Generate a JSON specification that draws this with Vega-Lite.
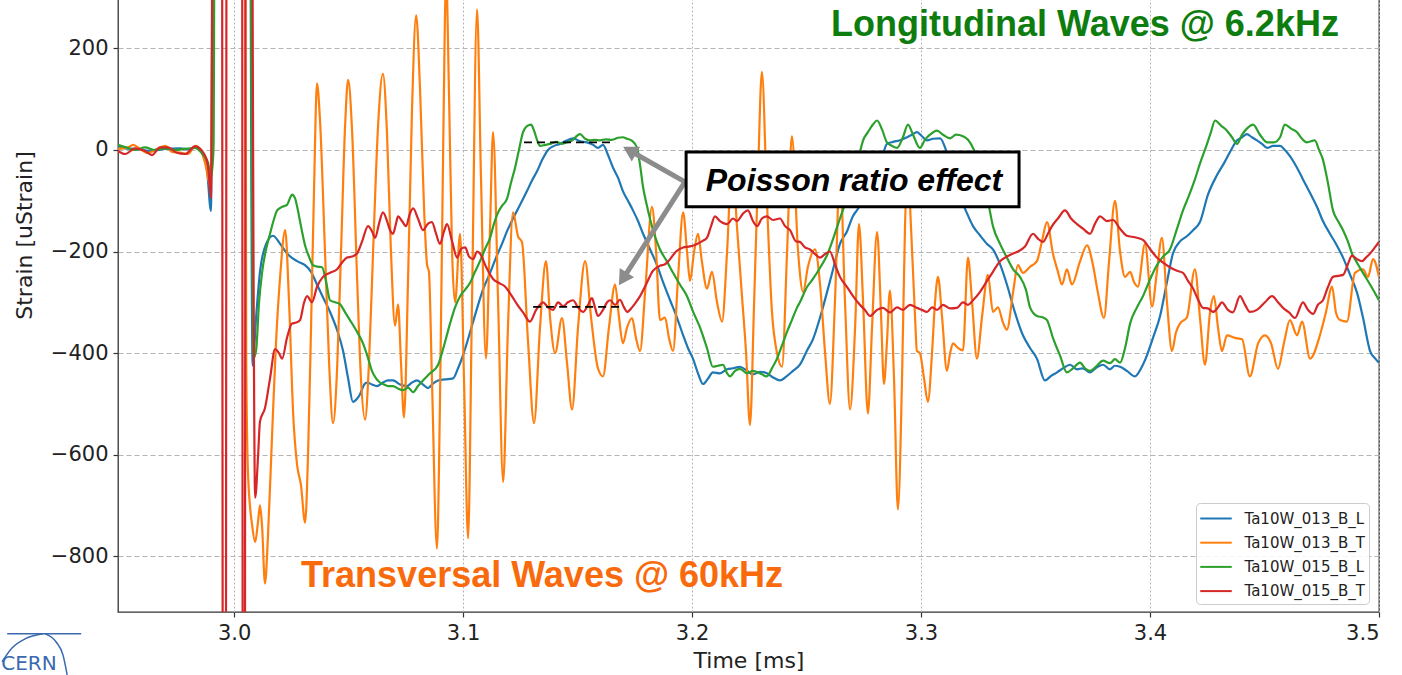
{
"$schema":"https://vega.github.io/schema/vega-lite/v6.json",
"width":1261,"height":754,"autosize":"none",
"padding":{"left":118,"top":-142,"right":23,"bottom":63},
"background":"white",
"config":{
"view":{"stroke":"#333333","strokeWidth":1.3},
"axis":{"labelFont":"DejaVu Sans","titleFont":"DejaVu Sans","labelFontSize":21,"titleFontSize":22,"labelColor":"#222222","titleColor":"#222222","titleFontWeight":"normal","tickColor":"#333333","tickSize":5,"tickWidth":1.2,"labelPadding":5,"domain":false,"gridColor":"#b3b3b3","gridWidth":1}
},
"datasets":{
"blue":[{"t":2.9493,"v":8},{"t":2.9524,"v":3},{"t":2.9568,"v":2},{"t":2.9633,"v":-2},{"t":2.9699,"v":2},{"t":2.9764,"v":3},{"t":2.9808,"v":1},{"t":2.9834,"v":7},{"t":2.986,"v":-5},{"t":2.9882,"v":-40},{"t":2.9899,"v":-120},{"t":2.9913,"v":1500},{"t":3.0061,"v":1500},{"t":3.0081,"v":-425},{"t":3.0096,"v":-330},{"t":3.0113,"v":-240},{"t":3.014,"v":-185},{"t":3.017,"v":-169},{"t":3.0201,"v":-185},{"t":3.0231,"v":-204},{"t":3.0275,"v":-219},{"t":3.031,"v":-227},{"t":3.0336,"v":-240},{"t":3.0362,"v":-265},{"t":3.0388,"v":-290},{"t":3.0419,"v":-319},{"t":3.045,"v":-355},{"t":3.0476,"v":-396},{"t":3.0498,"v":-450},{"t":3.0519,"v":-496},{"t":3.0537,"v":-490},{"t":3.055,"v":-481},{"t":3.0568,"v":-462},{"t":3.0581,"v":-458},{"t":3.0602,"v":-462},{"t":3.0624,"v":-465},{"t":3.065,"v":-458},{"t":3.0672,"v":-454},{"t":3.0694,"v":-454},{"t":3.0725,"v":-462},{"t":3.0755,"v":-465},{"t":3.0777,"v":-458},{"t":3.0799,"v":-454},{"t":3.0825,"v":-462},{"t":3.0847,"v":-469},{"t":3.0869,"v":-460},{"t":3.0891,"v":-454},{"t":3.0921,"v":-452},{"t":3.0956,"v":-450},{"t":3.0978,"v":-430},{"t":3.1,"v":-404},{"t":3.103,"v":-360},{"t":3.1061,"v":-312},{"t":3.1087,"v":-275},{"t":3.1118,"v":-242},{"t":3.1144,"v":-212},{"t":3.117,"v":-185},{"t":3.1192,"v":-160},{"t":3.1218,"v":-135},{"t":3.1249,"v":-108},{"t":3.1279,"v":-81},{"t":3.1301,"v":-60},{"t":3.1323,"v":-42},{"t":3.1345,"v":-20},{"t":3.1371,"v":0},{"t":3.1397,"v":8},{"t":3.1423,"v":12},{"t":3.145,"v":18},{"t":3.148,"v":23},{"t":3.1511,"v":17},{"t":3.1541,"v":15},{"t":3.1568,"v":10},{"t":3.1589,"v":4},{"t":3.1611,"v":10},{"t":3.1633,"v":-10},{"t":3.1655,"v":-35},{"t":3.1677,"v":-55},{"t":3.1698,"v":-81},{"t":3.172,"v":-100},{"t":3.1742,"v":-119},{"t":3.1764,"v":-140},{"t":3.1786,"v":-165},{"t":3.1816,"v":-195},{"t":3.1847,"v":-227},{"t":3.1873,"v":-260},{"t":3.1904,"v":-296},{"t":3.1934,"v":-330},{"t":3.1961,"v":-365},{"t":3.1982,"v":-390},{"t":3.2004,"v":-411},{"t":3.2026,"v":-440},{"t":3.2048,"v":-461},{"t":3.207,"v":-450},{"t":3.2091,"v":-438},{"t":3.2122,"v":-440},{"t":3.2153,"v":-432},{"t":3.2179,"v":-430},{"t":3.2209,"v":-427},{"t":3.224,"v":-435},{"t":3.2266,"v":-442},{"t":3.2297,"v":-437},{"t":3.2327,"v":-440},{"t":3.2354,"v":-448},{"t":3.2384,"v":-454},{"t":3.2415,"v":-445},{"t":3.2441,"v":-435},{"t":3.2471,"v":-423},{"t":3.2502,"v":-395},{"t":3.2528,"v":-373},{"t":3.2559,"v":-330},{"t":3.2589,"v":-281},{"t":3.2616,"v":-235},{"t":3.2646,"v":-185},{"t":3.2677,"v":-160},{"t":3.2703,"v":-130},{"t":3.272,"v":-119},{"t":3.2747,"v":-100},{"t":3.2777,"v":-81},{"t":3.2808,"v":-50},{"t":3.283,"v":-15},{"t":3.2851,"v":12},{"t":3.2878,"v":16},{"t":3.2908,"v":19},{"t":3.2939,"v":25},{"t":3.2961,"v":30},{"t":3.2982,"v":35},{"t":3.3004,"v":27},{"t":3.3026,"v":19},{"t":3.3052,"v":22},{"t":3.3083,"v":23},{"t":3.3113,"v":-5},{"t":3.314,"v":-42},{"t":3.317,"v":-90},{"t":3.3201,"v":-125},{"t":3.3227,"v":-150},{"t":3.3257,"v":-168},{"t":3.3288,"v":-185},{"t":3.3314,"v":-196},{"t":3.3345,"v":-225},{"t":3.3375,"v":-265},{"t":3.341,"v":-320},{"t":3.3445,"v":-365},{"t":3.3476,"v":-390},{"t":3.3506,"v":-411},{"t":3.3541,"v":-454},{"t":3.3568,"v":-445},{"t":3.3594,"v":-438},{"t":3.362,"v":-430},{"t":3.3651,"v":-423},{"t":3.3681,"v":-432},{"t":3.3707,"v":-430},{"t":3.3738,"v":-438},{"t":3.3768,"v":-428},{"t":3.3795,"v":-423},{"t":3.3825,"v":-432},{"t":3.3847,"v":-425},{"t":3.3869,"v":-427},{"t":3.3899,"v":-435},{"t":3.3934,"v":-446},{"t":3.3961,"v":-430},{"t":3.3987,"v":-404},{"t":3.4013,"v":-370},{"t":3.4044,"v":-327},{"t":3.4074,"v":-260},{"t":3.41,"v":-204},{"t":3.4131,"v":-180},{"t":3.4161,"v":-170},{"t":3.4188,"v":-158},{"t":3.4218,"v":-142},{"t":3.4253,"v":-88},{"t":3.4292,"v":-50},{"t":3.4327,"v":-23},{"t":3.4354,"v":0},{"t":3.438,"v":19},{"t":3.4402,"v":25},{"t":3.4423,"v":31},{"t":3.4445,"v":25},{"t":3.4467,"v":19},{"t":3.4489,"v":12},{"t":3.4511,"v":4},{"t":3.4537,"v":8},{"t":3.4568,"v":8},{"t":3.4589,"v":0},{"t":3.4611,"v":-12},{"t":3.4642,"v":-35},{"t":3.4668,"v":-58},{"t":3.4699,"v":-85},{"t":3.4729,"v":-112},{"t":3.4755,"v":-140},{"t":3.4786,"v":-165},{"t":3.4816,"v":-188},{"t":3.4843,"v":-212},{"t":3.4873,"v":-245},{"t":3.4904,"v":-281},{"t":3.493,"v":-330},{"t":3.4961,"v":-396},{"t":3.4982,"v":-410},{"t":3.5,"v":-419}],
"orange":[{"t":2.9493,"v":2},{"t":2.9537,"v":5},{"t":2.9559,"v":10},{"t":2.9589,"v":2},{"t":2.9624,"v":-6},{"t":2.9668,"v":3},{"t":2.9699,"v":8},{"t":2.9729,"v":-4},{"t":2.9764,"v":-5},{"t":2.9799,"v":-8},{"t":2.983,"v":8},{"t":2.9851,"v":2},{"t":2.9873,"v":-25},{"t":2.9899,"v":-75},{"t":2.9917,"v":1500},{"t":3.0044,"v":1500},{"t":3.0053,"v":-411},{"t":3.0061,"v":-640},{"t":3.0079,"v":-740},{"t":3.0092,"v":-772},{"t":3.0105,"v":-730},{"t":3.0113,"v":-700},{"t":3.0122,"v":-740},{"t":3.0135,"v":-854},{"t":3.0148,"v":-760},{"t":3.0166,"v":-560},{"t":3.0183,"v":-380},{"t":3.0201,"v":-250},{"t":3.0223,"v":-158},{"t":3.024,"v":-300},{"t":3.0258,"v":-520},{"t":3.0275,"v":-620},{"t":3.0292,"v":-660},{"t":3.031,"v":-734},{"t":3.0323,"v":-600},{"t":3.0336,"v":-350},{"t":3.0349,"v":-80},{"t":3.0362,"v":131},{"t":3.0375,"v":60},{"t":3.0397,"v":-200},{"t":3.0415,"v":-420},{"t":3.0432,"v":-538},{"t":3.045,"v":-430},{"t":3.0467,"v":-200},{"t":3.0485,"v":50},{"t":3.0498,"v":138},{"t":3.0515,"v":40},{"t":3.0537,"v":-250},{"t":3.0554,"v":-450},{"t":3.0572,"v":-531},{"t":3.0589,"v":-420},{"t":3.0607,"v":-200},{"t":3.0629,"v":50},{"t":3.065,"v":150},{"t":3.0668,"v":30},{"t":3.0685,"v":-200},{"t":3.0703,"v":-346},{"t":3.0716,"v":-304},{"t":3.0729,"v":-420},{"t":3.0742,"v":-527},{"t":3.076,"v":-250},{"t":3.0777,"v":80},{"t":3.0795,"v":265},{"t":3.0812,"v":120},{"t":3.083,"v":-120},{"t":3.0843,"v":-227},{"t":3.0851,"v":-240},{"t":3.0864,"v":-450},{"t":3.0886,"v":-785},{"t":3.0899,"v":-500},{"t":3.0913,"v":0},{"t":3.0926,"v":340},{"t":3.0939,"v":100},{"t":3.0952,"v":-200},{"t":3.0965,"v":-300},{"t":3.0987,"v":-165},{"t":3.1004,"v":-450},{"t":3.1022,"v":-765},{"t":3.1039,"v":-300},{"t":3.1061,"v":277},{"t":3.1078,"v":-50},{"t":3.11,"v":-411},{"t":3.1118,"v":-150},{"t":3.1131,"v":35},{"t":3.1153,"v":-300},{"t":3.1175,"v":-654},{"t":3.1196,"v":-350},{"t":3.1218,"v":-123},{"t":3.124,"v":-170},{"t":3.1257,"v":-181},{"t":3.1284,"v":-380},{"t":3.131,"v":-538},{"t":3.1336,"v":-350},{"t":3.1362,"v":-219},{"t":3.138,"v":-330},{"t":3.1402,"v":-400},{"t":3.1432,"v":-331},{"t":3.1454,"v":-420},{"t":3.1476,"v":-511},{"t":3.1502,"v":-350},{"t":3.1533,"v":-219},{"t":3.1559,"v":-330},{"t":3.1589,"v":-430},{"t":3.1611,"v":-446},{"t":3.1637,"v":-350},{"t":3.1664,"v":-265},{"t":3.1681,"v":-330},{"t":3.1698,"v":-381},{"t":3.1716,"v":-350},{"t":3.1738,"v":-331},{"t":3.1755,"v":-370},{"t":3.1773,"v":-396},{"t":3.1795,"v":-280},{"t":3.1825,"v":-112},{"t":3.1843,"v":-200},{"t":3.186,"v":-335},{"t":3.1882,"v":-330},{"t":3.1899,"v":-370},{"t":3.1917,"v":-396},{"t":3.1939,"v":-250},{"t":3.1961,"v":-123},{"t":3.1978,"v":-200},{"t":3.1991,"v":-258},{"t":3.2009,"v":-200},{"t":3.2026,"v":-165},{"t":3.2043,"v":-220},{"t":3.2065,"v":-273},{"t":3.2087,"v":-240},{"t":3.2109,"v":-300},{"t":3.2131,"v":-338},{"t":3.2153,"v":-200},{"t":3.2175,"v":-15},{"t":3.2196,"v":-150},{"t":3.2218,"v":-288},{"t":3.2236,"v":-400},{"t":3.2253,"v":-542},{"t":3.2271,"v":-300},{"t":3.2288,"v":-50},{"t":3.2305,"v":154},{"t":3.2327,"v":-100},{"t":3.2349,"v":-319},{"t":3.2371,"v":-400},{"t":3.2393,"v":-427},{"t":3.2415,"v":-200},{"t":3.2436,"v":27},{"t":3.2463,"v":-200},{"t":3.2485,"v":-280},{"t":3.2506,"v":-230},{"t":3.2537,"v":-196},{"t":3.2559,"v":-265},{"t":3.2581,"v":-400},{"t":3.2602,"v":-500},{"t":3.2624,"v":-300},{"t":3.2646,"v":-38},{"t":3.2668,"v":-300},{"t":3.269,"v":-511},{"t":3.2712,"v":-350},{"t":3.2729,"v":-146},{"t":3.2747,"v":-300},{"t":3.2768,"v":-519},{"t":3.2786,"v":-350},{"t":3.2808,"v":-162},{"t":3.2825,"v":-320},{"t":3.2838,"v":-461},{"t":3.2851,"v":-380},{"t":3.2864,"v":-277},{"t":3.2882,"v":-450},{"t":3.2899,"v":-708},{"t":3.2917,"v":-450},{"t":3.293,"v":-150},{"t":3.2943,"v":-38},{"t":3.2956,"v":-150},{"t":3.2974,"v":-330},{"t":3.2982,"v":-396},{"t":3.2995,"v":-400},{"t":3.3013,"v":-450},{"t":3.303,"v":-496},{"t":3.3048,"v":-400},{"t":3.3061,"v":-300},{"t":3.3074,"v":-250},{"t":3.3092,"v":-330},{"t":3.3113,"v":-435},{"t":3.3127,"v":-400},{"t":3.314,"v":-381},{"t":3.3161,"v":-390},{"t":3.3183,"v":-395},{"t":3.3205,"v":-212},{"t":3.3223,"v":-300},{"t":3.3244,"v":-411},{"t":3.3266,"v":-330},{"t":3.3292,"v":-246},{"t":3.3314,"v":-319},{"t":3.3336,"v":-310},{"t":3.3358,"v":-340},{"t":3.3375,"v":-354},{"t":3.3402,"v":-280},{"t":3.3423,"v":-227},{"t":3.3445,"v":-242},{"t":3.3476,"v":-230},{"t":3.3506,"v":-219},{"t":3.3528,"v":-180},{"t":3.355,"v":-142},{"t":3.3576,"v":-204},{"t":3.3598,"v":-240},{"t":3.3616,"v":-265},{"t":3.3637,"v":-235},{"t":3.3659,"v":-265},{"t":3.3694,"v":-220},{"t":3.3725,"v":-188},{"t":3.3751,"v":-227},{"t":3.3772,"v":-280},{"t":3.3799,"v":-331},{"t":3.3821,"v":-220},{"t":3.3847,"v":-100},{"t":3.3869,"v":-200},{"t":3.3891,"v":-250},{"t":3.3913,"v":-240},{"t":3.393,"v":-260},{"t":3.3947,"v":-269},{"t":3.3978,"v":-185},{"t":3.4009,"v":-308},{"t":3.403,"v":-240},{"t":3.4052,"v":-173},{"t":3.4074,"v":-300},{"t":3.4096,"v":-396},{"t":3.4113,"v":-360},{"t":3.4131,"v":-342},{"t":3.4161,"v":-330},{"t":3.4196,"v":-235},{"t":3.4218,"v":-330},{"t":3.424,"v":-423},{"t":3.4262,"v":-320},{"t":3.4279,"v":-288},{"t":3.4297,"v":-350},{"t":3.4314,"v":-396},{"t":3.4336,"v":-365},{"t":3.4371,"v":-370},{"t":3.4402,"v":-373},{"t":3.4436,"v":-446},{"t":3.4472,"v":-381},{"t":3.4502,"v":-365},{"t":3.4528,"v":-380},{"t":3.4559,"v":-431},{"t":3.4585,"v":-380},{"t":3.4611,"v":-335},{"t":3.4642,"v":-365},{"t":3.4664,"v":-338},{"t":3.4699,"v":-411},{"t":3.4742,"v":-365},{"t":3.4768,"v":-320},{"t":3.4795,"v":-269},{"t":3.4812,"v":-320},{"t":3.483,"v":-335},{"t":3.486,"v":-338},{"t":3.4895,"v":-242},{"t":3.493,"v":-235},{"t":3.4952,"v":-250},{"t":3.4974,"v":-215},{"t":3.5,"v":-250}],
"green":[{"t":2.9493,"v":10},{"t":2.9528,"v":5},{"t":2.9568,"v":0},{"t":2.9611,"v":5},{"t":2.9655,"v":0},{"t":2.9699,"v":3},{"t":2.9742,"v":0},{"t":2.9786,"v":2},{"t":2.983,"v":4},{"t":2.9865,"v":-10},{"t":2.9886,"v":-25},{"t":2.9899,"v":-55},{"t":2.991,"v":0},{"t":2.9921,"v":1500},{"t":3.0059,"v":1500},{"t":3.0085,"v":-410},{"t":3.0096,"v":-395},{"t":3.0109,"v":-300},{"t":3.0122,"v":-242},{"t":3.014,"v":-195},{"t":3.0157,"v":-165},{"t":3.0175,"v":-135},{"t":3.0188,"v":-119},{"t":3.021,"v":-112},{"t":3.0231,"v":-108},{"t":3.0244,"v":-95},{"t":3.0253,"v":-88},{"t":3.0266,"v":-95},{"t":3.0275,"v":-111},{"t":3.0292,"v":-150},{"t":3.031,"v":-188},{"t":3.0327,"v":-210},{"t":3.0345,"v":-227},{"t":3.0367,"v":-230},{"t":3.0384,"v":-231},{"t":3.0402,"v":-260},{"t":3.0419,"v":-296},{"t":3.0441,"v":-300},{"t":3.0463,"v":-304},{"t":3.0485,"v":-320},{"t":3.0506,"v":-335},{"t":3.0533,"v":-355},{"t":3.0563,"v":-381},{"t":3.0585,"v":-410},{"t":3.0602,"v":-435},{"t":3.062,"v":-450},{"t":3.0637,"v":-458},{"t":3.0655,"v":-462},{"t":3.0672,"v":-465},{"t":3.0694,"v":-465},{"t":3.0716,"v":-470},{"t":3.0738,"v":-473},{"t":3.076,"v":-468},{"t":3.0782,"v":-477},{"t":3.0803,"v":-465},{"t":3.0825,"v":-454},{"t":3.0856,"v":-440},{"t":3.0891,"v":-423},{"t":3.0917,"v":-385},{"t":3.0943,"v":-342},{"t":3.0965,"v":-310},{"t":3.0987,"v":-288},{"t":3.1009,"v":-275},{"t":3.103,"v":-262},{"t":3.1052,"v":-240},{"t":3.1074,"v":-219},{"t":3.1096,"v":-195},{"t":3.1118,"v":-173},{"t":3.1135,"v":-145},{"t":3.1153,"v":-123},{"t":3.117,"v":-110},{"t":3.1192,"v":-96},{"t":3.1209,"v":-65},{"t":3.1227,"v":-35},{"t":3.1244,"v":0},{"t":3.1262,"v":35},{"t":3.1279,"v":47},{"t":3.1297,"v":50},{"t":3.131,"v":38},{"t":3.1323,"v":20},{"t":3.1336,"v":8},{"t":3.1358,"v":10},{"t":3.138,"v":12},{"t":3.1406,"v":16},{"t":3.1432,"v":12},{"t":3.1454,"v":15},{"t":3.148,"v":20},{"t":3.1498,"v":28},{"t":3.1511,"v":31},{"t":3.1533,"v":22},{"t":3.1554,"v":19},{"t":3.1576,"v":20},{"t":3.1598,"v":19},{"t":3.1624,"v":21},{"t":3.165,"v":20},{"t":3.1677,"v":24},{"t":3.1698,"v":25},{"t":3.1716,"v":22},{"t":3.1738,"v":18},{"t":3.176,"v":4},{"t":3.1773,"v":-30},{"t":3.1786,"v":-73},{"t":3.1803,"v":-110},{"t":3.1816,"v":-135},{"t":3.1838,"v":-170},{"t":3.186,"v":-196},{"t":3.1891,"v":-220},{"t":3.1917,"v":-242},{"t":3.1947,"v":-265},{"t":3.1978,"v":-288},{"t":3.2004,"v":-318},{"t":3.2035,"v":-350},{"t":3.2065,"v":-390},{"t":3.2091,"v":-427},{"t":3.2113,"v":-425},{"t":3.2135,"v":-423},{"t":3.2153,"v":-440},{"t":3.2166,"v":-446},{"t":3.2188,"v":-435},{"t":3.2209,"v":-431},{"t":3.224,"v":-440},{"t":3.2266,"v":-435},{"t":3.2297,"v":-440},{"t":3.2327,"v":-446},{"t":3.2349,"v":-430},{"t":3.2371,"v":-411},{"t":3.2393,"v":-385},{"t":3.2415,"v":-358},{"t":3.2436,"v":-335},{"t":3.2458,"v":-311},{"t":3.2471,"v":-300},{"t":3.2502,"v":-270},{"t":3.2528,"v":-254},{"t":3.2559,"v":-232},{"t":3.2589,"v":-208},{"t":3.2616,"v":-175},{"t":3.2646,"v":-135},{"t":3.2677,"v":-95},{"t":3.2703,"v":-58},{"t":3.2725,"v":-20},{"t":3.2747,"v":19},{"t":3.2768,"v":35},{"t":3.279,"v":50},{"t":3.2808,"v":58},{"t":3.283,"v":40},{"t":3.2851,"v":15},{"t":3.2873,"v":8},{"t":3.2895,"v":4},{"t":3.2921,"v":25},{"t":3.2943,"v":50},{"t":3.2965,"v":30},{"t":3.2995,"v":4},{"t":3.3017,"v":20},{"t":3.3039,"v":30},{"t":3.307,"v":38},{"t":3.3096,"v":30},{"t":3.3127,"v":23},{"t":3.3153,"v":30},{"t":3.3183,"v":27},{"t":3.3205,"v":20},{"t":3.3227,"v":4},{"t":3.3249,"v":-20},{"t":3.3271,"v":-58},{"t":3.3292,"v":-100},{"t":3.3314,"v":-150},{"t":3.3345,"v":-185},{"t":3.3375,"v":-212},{"t":3.3402,"v":-235},{"t":3.3432,"v":-250},{"t":3.3458,"v":-275},{"t":3.3476,"v":-310},{"t":3.3506,"v":-327},{"t":3.3533,"v":-330},{"t":3.355,"v":-335},{"t":3.3576,"v":-370},{"t":3.3607,"v":-405},{"t":3.3637,"v":-438},{"t":3.3664,"v":-430},{"t":3.3694,"v":-419},{"t":3.3716,"v":-430},{"t":3.3738,"v":-435},{"t":3.3768,"v":-425},{"t":3.3795,"v":-415},{"t":3.3825,"v":-420},{"t":3.3847,"v":-412},{"t":3.3869,"v":-419},{"t":3.3891,"v":-390},{"t":3.3913,"v":-342},{"t":3.3943,"v":-310},{"t":3.3969,"v":-288},{"t":3.4,"v":-255},{"t":3.403,"v":-227},{"t":3.4057,"v":-210},{"t":3.4087,"v":-196},{"t":3.4118,"v":-155},{"t":3.4144,"v":-119},{"t":3.417,"v":-90},{"t":3.4196,"v":-58},{"t":3.4218,"v":-27},{"t":3.4249,"v":12},{"t":3.4266,"v":35},{"t":3.4284,"v":58},{"t":3.431,"v":48},{"t":3.4336,"v":38},{"t":3.4358,"v":25},{"t":3.438,"v":12},{"t":3.4402,"v":30},{"t":3.4423,"v":42},{"t":3.445,"v":50},{"t":3.448,"v":30},{"t":3.4511,"v":15},{"t":3.4541,"v":15},{"t":3.4568,"v":25},{"t":3.4589,"v":50},{"t":3.4616,"v":42},{"t":3.4642,"v":35},{"t":3.4664,"v":22},{"t":3.4685,"v":15},{"t":3.472,"v":19},{"t":3.4738,"v":0},{"t":3.4755,"v":-19},{"t":3.4777,"v":-65},{"t":3.4799,"v":-119},{"t":3.4821,"v":-140},{"t":3.4843,"v":-158},{"t":3.4864,"v":-180},{"t":3.4882,"v":-204},{"t":3.4904,"v":-222},{"t":3.493,"v":-242},{"t":3.4961,"v":-265},{"t":3.5,"v":-296}],
"red":[{"t":2.9493,"v":-2},{"t":2.9524,"v":-8},{"t":2.9568,"v":3},{"t":2.9611,"v":-2},{"t":2.9642,"v":-10},{"t":2.9677,"v":5},{"t":2.9712,"v":5},{"t":2.9747,"v":-5},{"t":2.9786,"v":-8},{"t":2.983,"v":7},{"t":2.9865,"v":-5},{"t":2.9886,"v":-30},{"t":2.9899,"v":-95},{"t":2.9915,"v":1500},{"t":2.9945,"v":1500},{"t":2.9952,"v":-1500},{"t":2.9963,"v":-1500},{"t":2.9969,"v":1500},{"t":3.0033,"v":1500},{"t":3.0039,"v":-1500},{"t":3.0046,"v":-1500},{"t":3.0052,"v":1500},{"t":3.0068,"v":1500},{"t":3.0092,"v":-685},{"t":3.0105,"v":-600},{"t":3.0113,"v":-535},{"t":3.0135,"v":-508},{"t":3.0157,"v":-450},{"t":3.0179,"v":-392},{"t":3.0196,"v":-400},{"t":3.021,"v":-411},{"t":3.0231,"v":-370},{"t":3.0253,"v":-342},{"t":3.0271,"v":-340},{"t":3.0288,"v":-335},{"t":3.0306,"v":-300},{"t":3.0319,"v":-288},{"t":3.034,"v":-300},{"t":3.0362,"v":-270},{"t":3.0388,"v":-250},{"t":3.0419,"v":-242},{"t":3.045,"v":-235},{"t":3.0471,"v":-222},{"t":3.0493,"v":-212},{"t":3.0515,"v":-210},{"t":3.0537,"v":-204},{"t":3.0559,"v":-180},{"t":3.0585,"v":-150},{"t":3.0602,"v":-160},{"t":3.0616,"v":-173},{"t":3.0633,"v":-145},{"t":3.065,"v":-123},{"t":3.0668,"v":-140},{"t":3.0681,"v":-158},{"t":3.0694,"v":-165},{"t":3.0707,"v":-145},{"t":3.0716,"v":-131},{"t":3.0733,"v":-140},{"t":3.0751,"v":-150},{"t":3.0768,"v":-125},{"t":3.0782,"v":-115},{"t":3.0803,"v":-135},{"t":3.0825,"v":-158},{"t":3.0847,"v":-145},{"t":3.0864,"v":-142},{"t":3.0882,"v":-165},{"t":3.0899,"v":-185},{"t":3.0917,"v":-160},{"t":3.093,"v":-146},{"t":3.0952,"v":-180},{"t":3.0974,"v":-212},{"t":3.0991,"v":-195},{"t":3.1009,"v":-192},{"t":3.1026,"v":-210},{"t":3.1044,"v":-215},{"t":3.1061,"v":-200},{"t":3.1074,"v":-204},{"t":3.11,"v":-230},{"t":3.1131,"v":-254},{"t":3.1157,"v":-262},{"t":3.1183,"v":-269},{"t":3.1209,"v":-285},{"t":3.1236,"v":-304},{"t":3.1262,"v":-320},{"t":3.1292,"v":-338},{"t":3.1319,"v":-315},{"t":3.1336,"v":-305},{"t":3.1349,"v":-300},{"t":3.1371,"v":-310},{"t":3.1393,"v":-315},{"t":3.1415,"v":-300},{"t":3.1437,"v":-308},{"t":3.1458,"v":-300},{"t":3.148,"v":-296},{"t":3.1502,"v":-310},{"t":3.1524,"v":-319},{"t":3.1546,"v":-305},{"t":3.1563,"v":-292},{"t":3.1576,"v":-310},{"t":3.1589,"v":-327},{"t":3.1611,"v":-315},{"t":3.1629,"v":-300},{"t":3.1642,"v":-296},{"t":3.1664,"v":-305},{"t":3.1685,"v":-295},{"t":3.1703,"v":-310},{"t":3.1716,"v":-319},{"t":3.1738,"v":-310},{"t":3.1755,"v":-300},{"t":3.1773,"v":-288},{"t":3.1799,"v":-265},{"t":3.1829,"v":-238},{"t":3.186,"v":-228},{"t":3.1882,"v":-225},{"t":3.1904,"v":-215},{"t":3.193,"v":-200},{"t":3.1961,"v":-192},{"t":3.1991,"v":-190},{"t":3.2022,"v":-185},{"t":3.2043,"v":-180},{"t":3.2065,"v":-173},{"t":3.2083,"v":-150},{"t":3.21,"v":-131},{"t":3.2122,"v":-140},{"t":3.2153,"v":-146},{"t":3.2179,"v":-135},{"t":3.2196,"v":-140},{"t":3.2223,"v":-125},{"t":3.2244,"v":-119},{"t":3.2266,"v":-140},{"t":3.2284,"v":-150},{"t":3.2305,"v":-135},{"t":3.2327,"v":-131},{"t":3.2354,"v":-138},{"t":3.2384,"v":-135},{"t":3.2406,"v":-150},{"t":3.2428,"v":-158},{"t":3.2454,"v":-180},{"t":3.2471,"v":-181},{"t":3.2493,"v":-192},{"t":3.2515,"v":-196},{"t":3.2537,"v":-205},{"t":3.2559,"v":-212},{"t":3.2581,"v":-205},{"t":3.2602,"v":-200},{"t":3.2624,"v":-225},{"t":3.2646,"v":-250},{"t":3.2677,"v":-270},{"t":3.2703,"v":-288},{"t":3.2733,"v":-305},{"t":3.2755,"v":-315},{"t":3.2777,"v":-327},{"t":3.2808,"v":-315},{"t":3.2834,"v":-311},{"t":3.2864,"v":-320},{"t":3.2895,"v":-310},{"t":3.2921,"v":-315},{"t":3.2952,"v":-305},{"t":3.2982,"v":-311},{"t":3.3004,"v":-315},{"t":3.3026,"v":-319},{"t":3.3048,"v":-310},{"t":3.307,"v":-315},{"t":3.3096,"v":-305},{"t":3.3127,"v":-312},{"t":3.3157,"v":-311},{"t":3.3183,"v":-300},{"t":3.3205,"v":-305},{"t":3.3227,"v":-296},{"t":3.3257,"v":-280},{"t":3.3288,"v":-258},{"t":3.3314,"v":-240},{"t":3.3345,"v":-219},{"t":3.3375,"v":-210},{"t":3.3402,"v":-204},{"t":3.3423,"v":-200},{"t":3.3454,"v":-190},{"t":3.3489,"v":-165},{"t":3.3511,"v":-175},{"t":3.3533,"v":-181},{"t":3.3554,"v":-165},{"t":3.3572,"v":-150},{"t":3.3598,"v":-135},{"t":3.3629,"v":-119},{"t":3.3655,"v":-135},{"t":3.3681,"v":-146},{"t":3.3707,"v":-155},{"t":3.3738,"v":-165},{"t":3.376,"v":-145},{"t":3.3782,"v":-131},{"t":3.3812,"v":-140},{"t":3.3838,"v":-138},{"t":3.3869,"v":-155},{"t":3.3899,"v":-169},{"t":3.3934,"v":-172},{"t":3.3969,"v":-177},{"t":3.4,"v":-195},{"t":3.403,"v":-212},{"t":3.4057,"v":-222},{"t":3.4087,"v":-231},{"t":3.4118,"v":-238},{"t":3.4144,"v":-242},{"t":3.4166,"v":-258},{"t":3.4188,"v":-273},{"t":3.421,"v":-295},{"t":3.4231,"v":-311},{"t":3.4253,"v":-312},{"t":3.4275,"v":-319},{"t":3.4297,"v":-310},{"t":3.4314,"v":-300},{"t":3.434,"v":-315},{"t":3.4362,"v":-320},{"t":3.4393,"v":-288},{"t":3.4415,"v":-305},{"t":3.4436,"v":-319},{"t":3.4467,"v":-315},{"t":3.4502,"v":-300},{"t":3.4533,"v":-288},{"t":3.4559,"v":-300},{"t":3.4581,"v":-311},{"t":3.4607,"v":-320},{"t":3.4633,"v":-331},{"t":3.4668,"v":-300},{"t":3.469,"v":-315},{"t":3.4712,"v":-323},{"t":3.4733,"v":-305},{"t":3.4755,"v":-296},{"t":3.4777,"v":-270},{"t":3.4799,"v":-250},{"t":3.4821,"v":-248},{"t":3.4843,"v":-246},{"t":3.4864,"v":-225},{"t":3.4882,"v":-208},{"t":3.4904,"v":-215},{"t":3.4926,"v":-219},{"t":3.4943,"v":-212},{"t":3.4961,"v":-204},{"t":3.4982,"v":-192},{"t":3.5,"v":-181}],
"dash":[{"t":3.1266,"t2":3.1664,"v":15},{"t":3.1306,"t2":3.1697,"v":-309}],
"arrows":[{"t":3.1969,"v":-63,"t2":3.1727,"v2":-1},{"t":3.1969,"v":-63,"t2":3.1698,"v2":-254}],
"head1":[{"t":3.1727,"v":-1}],
"head2":[{"t":3.1698,"v":-254}],
"box":[{"t":3.1974,"t2":3.3428,"v":-4,"v2":-112}],
"boxlabel":[{"t":3.2707,"v":-81,"label":"Poisson ratio effect"}],
"greenlabel":[{"t":3.3716,"v":224,"label":"Longitudinal Waves @ 6.2kHz"}],
"orangelabel":[{"t":3.1345,"v":-861,"label":"Transversal Waves @ 60kHz"}],
"logotext":[{"t":2.8983,"v":-1024,"label":"CERN"}],
"logoline":[{"t":2.9009,"t2":2.9332,"v":-953}],
"logoarc":[{"g":"a","t":2.8987,"v":-1008},{"g":"a","t":2.903,"v":-981},{"g":"a","t":2.9087,"v":-963},{"g":"a","t":2.9166,"v":-953},{"g":"b","t":2.9175,"v":-953},{"g":"b","t":2.9223,"v":-969},{"g":"b","t":2.9253,"v":-995},{"g":"b","t":2.9271,"v":-1034}]
},
"layer":[
{"data":{"name":"blue"},"mark":{"type":"line","strokeWidth":2.2,"clip":true,"interpolate":"monotone"},
 "encoding":{
  "x":{"field":"t","type":"quantitative","scale":{"domain":[2.9493,3.5],"nice":false,"zero":false},"axis":{"title":"Time [ms]","values":[3.0,3.1,3.2,3.3,3.4,3.5],"format":".1f","gridDash":[2,2],"titlePadding":7}},
  "y":{"field":"v","type":"quantitative","scale":{"domain":[-910,575],"nice":false,"zero":false},"axis":{"title":"Strain [uStrain]","values":[-800,-600,-400,-200,0,200],"gridDash":[5,3],"titlePadding":14}},
  "color":{"datum":"Ta10W_013_B_L","type":"nominal","scale":{"domain":["Ta10W_013_B_L","Ta10W_013_B_T","Ta10W_015_B_L","Ta10W_015_B_T"],"range":["#1f77b4","#ff7f0e","#2ca02c","#d62728"]},
   "legend":{"title":null,"orient":"none","legendX":1078,"legendY":645,"symbolType":"M-1.5,0H1.5","symbolSize":441,"symbolStrokeWidth":2,"symbolOffset":4.5,"labelOffset":17,"labelFont":"DejaVu Sans","labelFontSize":15,"labelColor":"#222222","padding":4,"rowPadding":4.2,"strokeColor":"#cccccc","fillColor":"rgba(255,255,255,0.85)","cornerRadius":4}}}},
{"data":{"name":"orange"},"mark":{"type":"line","strokeWidth":2.2,"clip":true,"interpolate":"monotone"},
 "encoding":{"x":{"field":"t","type":"quantitative"},"y":{"field":"v","type":"quantitative"},"color":{"datum":"Ta10W_013_B_T","type":"nominal"}}},
{"data":{"name":"green"},"mark":{"type":"line","strokeWidth":2.2,"clip":true,"interpolate":"monotone"},
 "encoding":{"x":{"field":"t","type":"quantitative"},"y":{"field":"v","type":"quantitative"},"color":{"datum":"Ta10W_015_B_L","type":"nominal"}}},
{"data":{"name":"red"},"mark":{"type":"line","strokeWidth":2.2,"clip":true,"interpolate":"monotone"},
 "encoding":{"x":{"field":"t","type":"quantitative"},"y":{"field":"v","type":"quantitative"},"color":{"datum":"Ta10W_015_B_T","type":"nominal"}}},
{"data":{"name":"dash"},"mark":{"type":"rule","color":"black","strokeWidth":1.6,"strokeDash":[8,5]},
 "encoding":{"x":{"field":"t","type":"quantitative"},"x2":{"field":"t2"},"y":{"field":"v","type":"quantitative"}}},
{"data":{"name":"arrows"},"mark":{"type":"rule","color":"#8c8c8c","strokeWidth":5},
 "encoding":{"x":{"field":"t","type":"quantitative"},"x2":{"field":"t2"},"y":{"field":"v","type":"quantitative"},"y2":{"field":"v2"}}},
{"data":{"name":"head1"},"mark":{"type":"point","shape":"triangle-up","filled":true,"size":290,"color":"#8c8c8c","opacity":1,"angle":299.5},
 "encoding":{"x":{"field":"t","type":"quantitative"},"y":{"field":"v","type":"quantitative"}}},
{"data":{"name":"head2"},"mark":{"type":"point","shape":"triangle-up","filled":true,"size":290,"color":"#8c8c8c","opacity":1,"angle":212.7},
 "encoding":{"x":{"field":"t","type":"quantitative"},"y":{"field":"v","type":"quantitative"}}},
{"data":{"name":"box"},"mark":{"type":"rect","fill":"white","stroke":"black","strokeWidth":3},
 "encoding":{"x":{"field":"t","type":"quantitative"},"x2":{"field":"t2"},"y":{"field":"v","type":"quantitative"},"y2":{"field":"v2"}}},
{"data":{"name":"boxlabel"},"mark":{"type":"text","font":"Liberation Sans","fontWeight":"bold","fontStyle":"italic","fontSize":32,"align":"center","baseline":"alphabetic","color":"black"},
 "encoding":{"x":{"field":"t","type":"quantitative"},"y":{"field":"v","type":"quantitative"},"text":{"field":"label"}}},
{"data":{"name":"greenlabel"},"mark":{"type":"text","font":"Liberation Sans","fontWeight":"bold","fontSize":36,"align":"center","baseline":"alphabetic","color":"#0e7d10"},
 "encoding":{"x":{"field":"t","type":"quantitative"},"y":{"field":"v","type":"quantitative"},"text":{"field":"label"}}},
{"data":{"name":"orangelabel"},"mark":{"type":"text","font":"Liberation Sans","fontWeight":"bold","fontSize":36,"align":"center","baseline":"alphabetic","color":"#f96a0c"},
 "encoding":{"x":{"field":"t","type":"quantitative"},"y":{"field":"v","type":"quantitative"},"text":{"field":"label"}}},
{"data":{"name":"logotext"},"mark":{"type":"text","font":"DejaVu Sans","fontSize":20,"align":"left","baseline":"alphabetic","color":"#3a69b0","clip":false},
 "encoding":{"x":{"field":"t","type":"quantitative"},"y":{"field":"v","type":"quantitative"},"text":{"field":"label"}}},
{"data":{"name":"logoline"},"mark":{"type":"rule","color":"#3a69b0","strokeWidth":1.5,"clip":false},
 "encoding":{"x":{"field":"t","type":"quantitative"},"x2":{"field":"t2"},"y":{"field":"v","type":"quantitative"}}},
{"data":{"name":"logoarc"},"mark":{"type":"line","color":"#3a69b0","strokeWidth":1.5,"clip":false,"interpolate":"monotone"},
 "encoding":{"x":{"field":"t","type":"quantitative"},"y":{"field":"v","type":"quantitative"},"detail":{"field":"g"}}}
]
}
